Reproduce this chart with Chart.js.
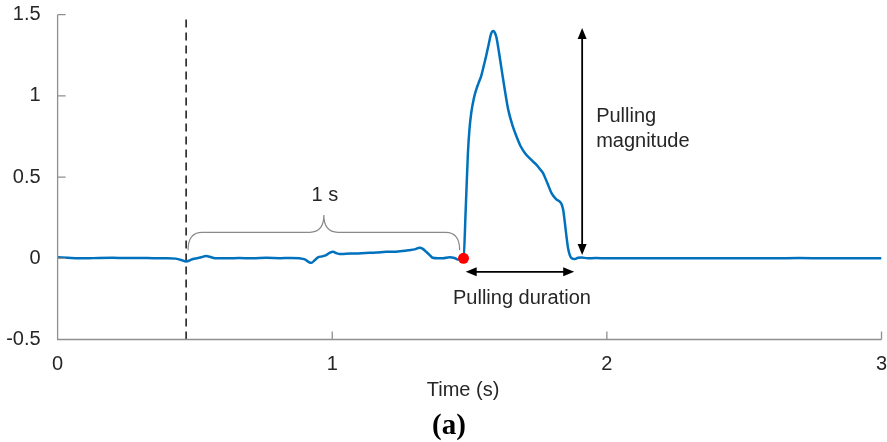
<!DOCTYPE html>
<html>
<head>
<meta charset="utf-8">
<script src="https://cdn.jsdelivr.net/npm/chart.js@4"></script>
<style>
  html, body { margin:0; padding:0; background:#fff; }
  #wrap { width:887px; height:442px; position:relative; }
</style>
</head>
<body>
<div id="wrap"><canvas id="pullChart"></canvas></div>
<script>
// time (s) and force trace
const timeS = [
  0, 0.05, 0.1, 0.15, 0.2, 0.25, 0.3, 0.35, 0.4, 0.43, 0.45, 0.468, 0.49, 0.52, 0.541, 0.56, 0.578,
  0.62, 0.66, 0.711, 0.76, 0.81, 0.85, 0.881, 0.9, 0.912, 0.924, 0.936, 0.948, 0.963, 0.978, 0.99,
  1.003, 1.015, 1.027, 1.05, 1.087, 1.12, 1.16, 1.196, 1.24, 1.281, 1.3, 1.318, 1.33, 1.342, 1.355,
  1.366, 1.385, 1.403, 1.427, 1.445, 1.457, 1.468, 1.478,
  1.486, 1.494, 1.5, 1.506, 1.515, 1.524, 1.533, 1.542, 1.551, 1.56, 1.57, 1.578, 1.586, 1.592,
  1.598, 1.607, 1.617, 1.629, 1.641, 1.656, 1.671, 1.686, 1.702, 1.722, 1.744, 1.756, 1.768, 1.784,
  1.799, 1.815, 1.829, 1.836, 1.841, 1.847, 1.853, 1.859, 1.865, 1.872, 1.883, 1.895, 1.907, 1.93,
  1.96, 2.0, 2.1, 2.2, 2.3, 2.4, 2.5, 2.6, 2.7, 2.8, 2.9, 3.0
];
const force = [
  0.006, 0.002, 0.0, 0.002, 0.003, 0.002, 0.002, 0.001, 0.001, -0.002, -0.01, -0.02, -0.006, 0.005, 0.014, 0.006, 0.0,
  0.0, 0.002, 0.0, 0.003, 0.001, 0.002, 0.0, -0.006, -0.02, -0.028, -0.012, 0.006, 0.012, 0.02, 0.033,
  0.04, 0.032, 0.026, 0.028, 0.03, 0.033, 0.036, 0.04, 0.042, 0.05, 0.055, 0.065, 0.058, 0.04, 0.02,
  0.003, 0.0, 0.0, 0.006, 0.002, -0.007, -0.004, 0.0,
  0.3, 0.647, 0.8, 0.893, 0.98, 1.037, 1.08, 1.12, 1.18, 1.243, 1.32, 1.38, 1.4, 1.39,
  1.36, 1.27, 1.16, 1.03, 0.914, 0.82, 0.75, 0.69, 0.647, 0.61, 0.575, 0.55, 0.523, 0.46,
  0.4, 0.365, 0.348, 0.33, 0.297, 0.22, 0.133, 0.06, 0.02, 0.0, -0.005, 0.003, 0.005, 0.0,
  0.002, 0.0, 0.001, 0.0, 0.001, 0.0, 0.001, 0.0, 0.002, 0.0, 0.001, 0.0
];
const xTicks = [0, 1, 2, 3];
const yTicks = [-0.5, 0, 0.5, 1, 1.5];
const xTickLabels = ["0", "1", "2", "3"];
const yTickLabels = ["-0.5", "0", "0.5", "1", "1.5"];

// markers / annotations (data units)
const stimTime = 0.468;
const onset = { x: 1.478, y: 0 };
const braceSpan = [0.475, 1.464];
const braceLevels = { base: 0.05, bar: 0.16, tip: 0.266 };
const magArrow = { x: 1.91, from: 0.02, to: 1.418 };
const durArrow = { y: -0.083, from: 1.486, to: 1.881 };

const AXIS_GREY = "#8f8f8f";
const TXT = "#262626";
const FONT = "Liberation Sans, Arial, sans-serif";

function arrowHead(ctx, x, y, ang){
  const L = 11, W = 4.5;
  ctx.save();
  ctx.translate(x, y); ctx.rotate(ang);
  ctx.beginPath();
  ctx.moveTo(0, 0); ctx.lineTo(-L, -W); ctx.lineTo(-L, W); ctx.closePath();
  ctx.fill();
  ctx.restore();
}

const decor = {
  id: "decor",
  afterDatasetsDraw(chart){
    const { ctx, chartArea: a, scales: { x, y } } = chart;
    ctx.save();

    // axes + inward ticks
    ctx.strokeStyle = AXIS_GREY; ctx.lineWidth = 1.3;
    ctx.beginPath();
    ctx.moveTo(a.left, a.top); ctx.lineTo(a.left, a.bottom); ctx.lineTo(a.right, a.bottom);
    xTicks.forEach(v => { const px = x.getPixelForValue(v); ctx.moveTo(px, a.bottom); ctx.lineTo(px, a.bottom - 8); });
    yTicks.forEach(v => { const py = y.getPixelForValue(v); ctx.moveTo(a.left, py); ctx.lineTo(a.left + 8, py); });
    ctx.stroke();

    // brace over the 1 s window
    const x0 = x.getPixelForValue(braceSpan[0]), x1 = x.getPixelForValue(braceSpan[1]);
    const xc = (x0 + x1) / 2;
    const yb = y.getPixelForValue(braceLevels.base), yr = y.getPixelForValue(braceLevels.bar), yt = y.getPixelForValue(braceLevels.tip);
    const r = 14;
    ctx.strokeStyle = "#8a8a8a"; ctx.lineWidth = 1.2;
    ctx.beginPath();
    ctx.moveTo(x0, yb);
    ctx.quadraticCurveTo(x0, yr, x0 + r, yr);
    ctx.lineTo(xc - r, yr);
    ctx.quadraticCurveTo(xc, yr, xc, yt);
    ctx.quadraticCurveTo(xc, yr, xc + r, yr);
    ctx.lineTo(x1 - r, yr);
    ctx.quadraticCurveTo(x1, yr, x1, yb);
    ctx.stroke();

    // arrows
    ctx.strokeStyle = "#000"; ctx.fillStyle = "#000"; ctx.lineWidth = 1.8;
    const mx = x.getPixelForValue(magArrow.x);
    const my0 = y.getPixelForValue(magArrow.from), my1 = y.getPixelForValue(magArrow.to);
    ctx.beginPath(); ctx.moveTo(mx, my0 - 8); ctx.lineTo(mx, my1 + 8); ctx.stroke();
    arrowHead(ctx, mx, my1, -Math.PI / 2);
    arrowHead(ctx, mx, my0, Math.PI / 2);

    const dy = y.getPixelForValue(durArrow.y);
    const dx0 = x.getPixelForValue(durArrow.from), dx1 = x.getPixelForValue(durArrow.to);
    ctx.beginPath(); ctx.moveTo(dx0 + 8, dy); ctx.lineTo(dx1 - 8, dy); ctx.stroke();
    arrowHead(ctx, dx0, dy, Math.PI);
    arrowHead(ctx, dx1, dy, 0);

    // labels
    ctx.fillStyle = TXT; ctx.font = "20px " + FONT; ctx.textBaseline = "middle";
    ctx.textAlign = "center";
    ctx.fillText("1 s", xc + 1, yt - 20);
    ctx.fillText("Pulling duration", (dx0 + dx1) / 2 + 2, dy + 27);
    ctx.textAlign = "left";
    ctx.fillText("Pulling", mx + 14, 116);
    ctx.fillText("magnitude", mx + 14, 141);
    ctx.textAlign = "center";
    ctx.fillText("Time (s)", 463, 390);
    ctx.fillStyle = "#000"; ctx.font = "bold 29px Liberation Serif, Times New Roman, serif";
    ctx.fillText("(a)", 449, 427);
    ctx.restore();
  }
};

const ctx = document.getElementById("pullChart");
new Chart(ctx, {
  type: "line",
  data: {
    datasets: [
      { label: "onset", data: [onset], type: "scatter", pointRadius: 5.5, pointBackgroundColor: "#ff0000",
        pointBorderWidth: 0, order: 0 },
      { label: "force", data: timeS.map((t, i) => ({ x: t, y: force[i] })), borderColor: "#0072BD",
        borderWidth: 2.5, pointRadius: 0, cubicInterpolationMode: "monotone", order: 1 },
      { label: "stimulus", data: [{ x: stimTime, y: -0.5 }, { x: stimTime, y: 1.5 }], borderColor: "#222",
        borderWidth: 1.6, borderDash: [8, 5], pointRadius: 0, order: 2 }
    ]
  },
  options: {
    responsive: true,
    maintainAspectRatio: false,
    animation: false,
    layout: { padding: { top: 14.7, right: 5.3, left: 0, bottom: 0 } },
    plugins: { legend: { display: false }, tooltip: { enabled: false } },
    scales: {
      x: {
        type: "linear", min: 0, max: 3,
        afterBuildTicks: s => { s.ticks = xTicks.map(v => ({ value: v })); },
        afterFit: s => { s.height = 102.5; s.paddingLeft = 0; s.paddingRight = 0; },
        ticks: { padding: 5, color: TXT, font: { family: FONT, size: 20 },
                 callback: v => xTickLabels[xTicks.indexOf(v)] },
        grid: { display: false }, border: { display: false }
      },
      y: {
        type: "linear", min: -0.5, max: 1.5,
        afterBuildTicks: s => { s.ticks = yTicks.map(v => ({ value: v })); },
        afterFit: s => { s.width = 57.6; s.paddingTop = 0; s.paddingBottom = 0; },
        ticks: { padding: 9, color: TXT, font: { family: FONT, size: 20 },
                 callback: v => yTickLabels[yTicks.indexOf(v)] },
        grid: { display: false }, border: { display: false }
      }
    }
  },
  plugins: [decor]
});
</script>
</body>
</html>
